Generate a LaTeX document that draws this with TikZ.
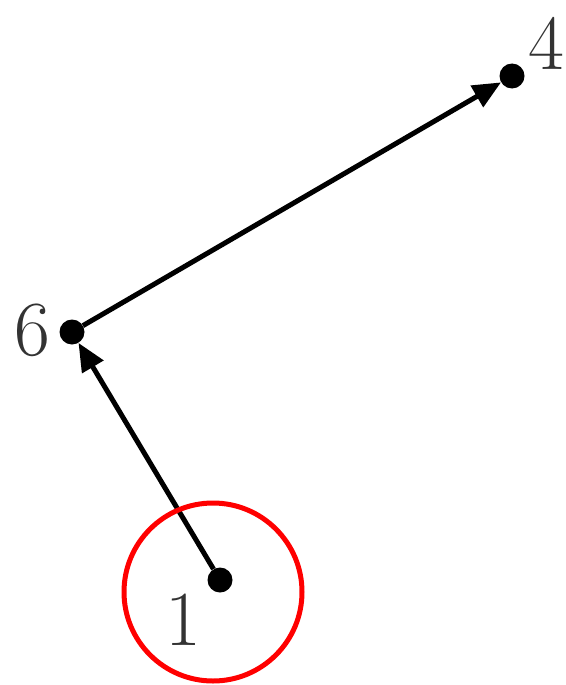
\documentclass[tikz,border=0pt]{standalone}
\usetikzlibrary{arrows.meta}
\begin{document}
\begin{tikzpicture}[x=1pt,y=1pt,
  vdot/.style={circle,fill=black,inner sep=0pt,minimum size=25pt},
  lbl/.style={inner sep=0pt,text=black!80,font=\fontsize{78}{78}\selectfont},
  edge/.style={line width=5pt,-{Triangle[length=28pt,width=24pt]}}]
\useasboundingbox (0,0) rectangle (565,-685);
\node[vdot] (n4) at (512,-76) {};
\node[vdot] (n6) at (72,-332) {};
\node[vdot] (n1) at (220,-580) {};
\node[lbl] (l4) at (546,-43) {4};
\node[lbl] (l6) at (32,-330) {6};
\node[lbl] (l1) at (183,-620) {1};
\draw[edge] (n1) -- (n6);
\draw[edge] (n6) -- (n4);
\node[draw=red,line width=5pt,circle,minimum size=178pt,inner sep=0pt] (ring) at (213,-592) {};
\end{tikzpicture}
\end{document}
